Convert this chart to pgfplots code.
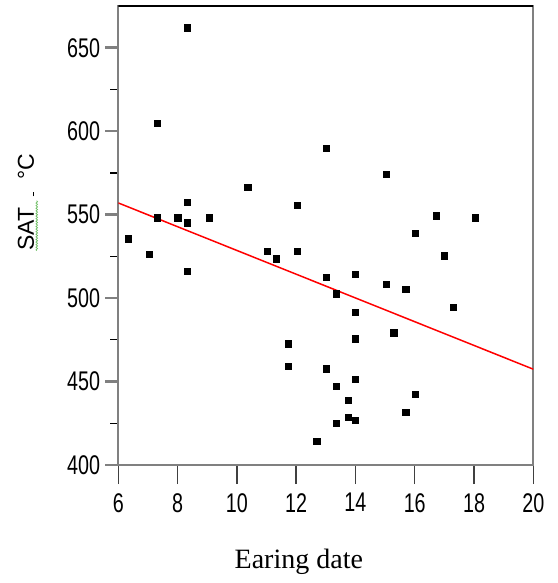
\documentclass[border=0pt]{standalone}
\usepackage{fontspec}
\setmainfont{Liberation Serif}
\newfontfamily\ticksf[FakeStretch=0.73]{Liberation Sans}
\newfontfamily\labsf{Liberation Sans}
\usepackage{pgfplots}
\pgfplotsset{compat=1.18}
\usetikzlibrary{decorations.pathmorphing}
\definecolor{axgray}{RGB}{128,128,128}
\definecolor{wavegreen}{RGB}{110,190,100}
\newcommand\wavy[1]{\tikz[baseline=(w.base)]{\node[inner sep=0pt,outer sep=0pt](w){#1};\draw[wavegreen,line width=0.7pt,decorate,decoration={snake,amplitude=0.8pt,segment length=2.6pt}] ([yshift=-3pt]w.base west) -- ([yshift=-3pt,xshift=7pt]w.base east);}}
\pgfplotstableread{
x y
8.33 661.7
7.32 604.5
13.02 589.7
15.04 574.2
10.37 566.4
8.34 557.4
12.04 555.6
7.32 548.1
8.02 548.1
9.07 548.1
8.34 545.1
16.73 549.3
18.04 548.1
6.34 535.5
7.05 526.2
16.02 538.8
17.00 525.3
11.03 528.0
11.34 523.5
12.04 528.0
8.33 516.0
14.00 514.2
13.02 512.4
15.04 508.0
15.71 505.0
13.36 502.5
17.30 494.2
14.00 491.2
15.30 479.1
14.00 475.6
11.74 472.6
11.74 459.0
13.02 457.4
14.00 451.4
13.36 447.0
16.02 442.2
13.76 438.6
15.71 431.4
13.76 428.4
14.00 426.6
13.36 425.0
12.70 414.0
}\pts
\begin{document}
\begin{tikzpicture}
\begin{axis}[name=ax, scale only axis, width=415pt, height=459pt,
  xmin=6, xmax=20, ymin=400, ymax=675,
  xtick={6,8,...,20}, ytick={400,450,...,650},
  minor ytick={425,475,...,625},
  xtick pos=bottom, ytick pos=left,
  tick align=outside,
  axis line style={axgray, line width=2.2pt},
  major tick length=13pt, minor tick length=8pt,
  every major x tick/.append style={black!75, line width=1.5pt, /pgfplots/major tick length=19pt},
  every major y tick/.append style={axgray, line width=2.6pt},
  every minor y tick/.append style={black, line width=1.2pt},
  /pgf/number format/assume math mode=true,
  tick label style={font=\ticksf\fontsize{27}{27}\selectfont, inner sep=0pt, text=black},
  xticklabel style={yshift=-15pt},
  yticklabel style={xshift=-5pt},
  xlabel={Earing date},
  xlabel style={at={(rel axis cs:0.435,-0.2244)}, anchor=base, font=\fontsize{28}{28}\selectfont},
  ylabel={\labsf\fontsize{23}{23}\selectfont\wavy{SAT}\,\rule{4pt}{1.1pt}\ \ °C},
  ylabel style={at={(rel axis cs:-0.218,0.572)}, anchor=center, rotate=0},
]
\addplot[only marks, mark=square*, mark size=3.2pt, mark options={fill=black, draw=black, line width=0pt}] table[x=x,y=y]{\pts};
\addplot[red, line width=1.5pt] coordinates {(6,557) (20,457.4)};
\draw[black, line width=2pt] ([xshift=-8pt]rel axis cs:0,1) -- (rel axis cs:1,1);
\end{axis}
\pgfresetboundingbox
\path[use as bounding box] ([xshift=-118.3pt,yshift=-118pt]ax.south west) rectangle ([xshift=23.7pt,yshift=6pt]ax.north east);
\end{tikzpicture}
\end{document}
